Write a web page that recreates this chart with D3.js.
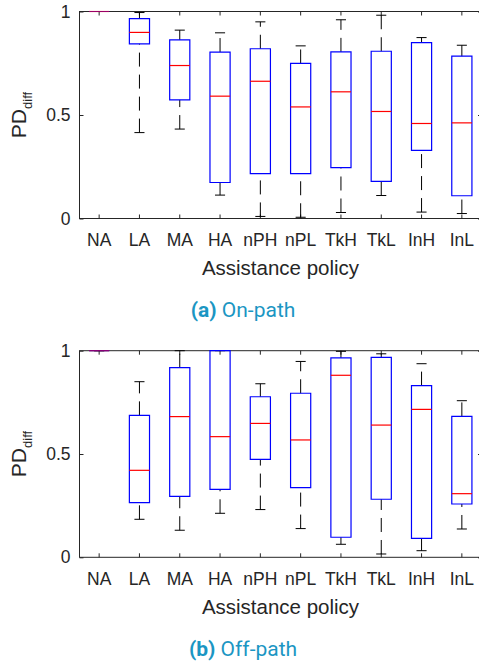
<!DOCTYPE html>
<html>
<head>
<meta charset="utf-8">
<script src="https://cdn.jsdelivr.net/npm/d3@7"></script>
<style>
    body { margin: 0; background: #fff; }
    #chart { width: 479px; height: 662px; }
    .axis text { font-family: "Liberation Sans", Arial, sans-serif; font-size: 17.5px; fill: #262626; }
    .axis line { stroke: #262626; }
    .axisLabel { font-family: "Liberation Sans", Arial, sans-serif; fill: #262626; }
    .caption { font-family: Roboto, "Open Sans", sans-serif; fill: #1b96c3; font-size: 21px; }
</style>
</head>
<body>
<div id="chart"></div>
<script>

// assistance policies on the x axis
const policies = ["NA", "LA", "MA", "HA", "nPH", "nPL", "TkH", "TkL", "InH", "InL"];
const yTicks = [0, 0.5, 1];

// (a) on-path box stats: lower whisker, q1, median, q3, upper whisker
const onLo  = [1, 0.415, 0.432, 0.113, 0.010, 0.006, 0.029, 0.111, 0.031, 0.024];
const onQ1  = [1, 0.844, 0.573, 0.174, 0.217, 0.217, 0.246, 0.179, 0.329, 0.110];
const onMed = [1, 0.899, 0.739, 0.591, 0.663, 0.539, 0.612, 0.517, 0.459, 0.462];
const onQ3  = [1, 0.966, 0.863, 0.804, 0.820, 0.749, 0.805, 0.808, 0.850, 0.784];
const onHi  = [1, 0.995, 0.910, 0.897, 0.950, 0.834, 0.960, 0.982, 0.874, 0.837];

// (b) off-path box stats
const offLo  = [1, 0.184, 0.131, 0.213, 0.231, 0.139, 0.063, 0.016, 0.032, 0.137];
const offQ1  = [1, 0.265, 0.295, 0.329, 0.474, 0.337, 0.097, 0.281, 0.092, 0.258];
const offMed = [1, 0.421, 0.681, 0.584, 0.648, 0.568, 0.881, 0.640, 0.716, 0.308];
const offQ3  = [1, 0.687, 0.918, 1.000, 0.777, 0.794, 0.965, 0.968, 0.831, 0.682];
const offHi  = [1, 0.850, 1.000, 1.000, 0.840, 0.948, 0.997, 0.985, 0.937, 0.758];

const width = 479, height = 662;

const svg = d3.select("#chart")
    .append("svg")
    .attr("width", width)
    .attr("height", height);

const xScale = d3.scaleBand()
    .domain(policies)
    .range([79, 482])
    .padding(0);

function drawPanel(top, bottom, lo, q1, med, q3, hi, captionBold, captionText, captionY) {

    const yScale = d3.scaleLinear()
        .domain([0, 1])
        .range([bottom, top]);

    const data = policies.map(function(p, i) {
        return {name: p, lo: lo[i], q1: q1[i], med: med[i], q3: q3[i], hi: hi[i]};
    });

    const g = svg.append("g");

    // frame
    g.append("rect")
        .attr("x", xScale.range()[0] + 0.5)
        .attr("y", top)
        .attr("width", xScale.range()[1] - xScale.range()[0])
        .attr("height", bottom - top)
        .attr("fill", "none")
        .attr("stroke", "#262626")
        .attr("stroke-width", 1);

    // axes, ticks pointing inward like matlab
    const xAxis = g.append("g")
        .attr("class", "axis")
        .attr("transform", `translate(0,${bottom})`)
        .call(d3.axisBottom(xScale).tickSizeInner(-4).tickSizeOuter(0).tickPadding(15));
    xAxis.select(".domain").remove();

    const xAxisTop = g.append("g")
        .attr("class", "axis")
        .attr("transform", `translate(0,${top})`)
        .call(d3.axisTop(xScale).tickSizeInner(-4).tickSizeOuter(0).tickFormat(""));
    xAxisTop.select(".domain").remove();

    const yAxis = g.append("g")
        .attr("class", "axis")
        .attr("transform", `translate(79.5,0)`)
        .call(d3.axisLeft(yScale).tickValues(yTicks).tickSizeInner(-4).tickSizeOuter(0).tickPadding(9)
            .tickFormat(d3.format("")));
    yAxis.select(".domain").remove();

    const yAxisRight = g.append("g")
        .attr("class", "axis")
        .attr("transform", `translate(482,0)`)
        .call(d3.axisRight(yScale).tickValues(yTicks).tickSizeInner(-4).tickSizeOuter(0).tickFormat(""));
    yAxisRight.select(".domain").remove();

    const bw = xScale.bandwidth();
    const cx = function(d) { return xScale(d.name) + bw / 2; };

    const boxes = g.selectAll(".box")
        .data(data)
        .enter()
        .append("g")
        .attr("class", "box");

    // whiskers (dashed), drawn from low value upward
    boxes.append("line")
        .attr("x1", cx).attr("x2", cx)
        .attr("y1", function(d) { return yScale(d.lo); })
        .attr("y2", function(d) { return yScale(d.q1); })
        .attr("stroke", "#000")
        .attr("stroke-dasharray", "14,8");

    boxes.append("line")
        .attr("x1", cx).attr("x2", cx)
        .attr("y1", function(d) { return yScale(d.q3); })
        .attr("y2", function(d) { return yScale(d.hi); })
        .attr("stroke", "#000")
        .attr("stroke-dasharray", "14,8");

    // caps
    boxes.append("line")
        .attr("x1", function(d) { return cx(d) - bw / 8; })
        .attr("x2", function(d) { return cx(d) + bw / 8; })
        .attr("y1", function(d) { return yScale(d.lo); })
        .attr("y2", function(d) { return yScale(d.lo); })
        .attr("stroke", "#000");

    boxes.append("line")
        .attr("x1", function(d) { return cx(d) - bw / 8; })
        .attr("x2", function(d) { return cx(d) + bw / 8; })
        .attr("y1", function(d) { return yScale(d.hi); })
        .attr("y2", function(d) { return yScale(d.hi); })
        .attr("stroke", "#000");

    // box as a path so a flat box still shows
    boxes.append("path")
        .attr("d", function(d) {
            const x0 = cx(d) - bw / 4, x1 = cx(d) + bw / 4;
            return `M${x0},${yScale(d.q3)}H${x1}V${yScale(d.q1)}H${x0}Z`;
        })
        .attr("fill", "none")
        .attr("stroke", "#0000ff")
        .attr("stroke-width", 1.2);

    // median
    boxes.append("line")
        .attr("x1", function(d) { return cx(d) - bw / 4; })
        .attr("x2", function(d) { return cx(d) + bw / 4; })
        .attr("y1", function(d) { return yScale(d.med); })
        .attr("y2", function(d) { return yScale(d.med); })
        .attr("stroke", "#ff0000")
        .attr("stroke-width", 1.2)
        .attr("stroke-opacity", function(d) { return d.med === d.q3 ? 0.6 : 1; });

    // axis labels
    g.append("text")
        .attr("class", "axisLabel")
        .attr("x", 280.5)
        .attr("y", bottom + 56.5)
        .attr("text-anchor", "middle")
        .attr("font-size", "20.5px")
        .text("Assistance policy");

    const yLabel = g.append("text")
        .attr("class", "axisLabel")
        .attr("transform", `translate(26,${(top + bottom) / 2}) rotate(-90)`)
        .attr("text-anchor", "middle")
        .attr("font-size", "21px");
    yLabel.append("tspan").text("PD");
    yLabel.append("tspan")
        .attr("font-size", "13px")
        .attr("dy", 6)
        .text("diff");

    // caption
    const cap = g.append("text")
        .attr("class", "caption")
        .attr("x", 243)
        .attr("y", captionY)
        .attr("text-anchor", "middle");
    cap.append("tspan").attr("font-weight", "bold").text(captionBold);
    cap.append("tspan").text(" " + captionText);
}

drawPanel(11.5, 218.5, onLo, onQ1, onMed, onQ3, onHi, "(a)", "On-path", 317);
drawPanel(350.7, 557.3, offLo, offQ1, offMed, offQ3, offHi, "(b)", "Off-path", 656);

</script>
</body>
</html>
